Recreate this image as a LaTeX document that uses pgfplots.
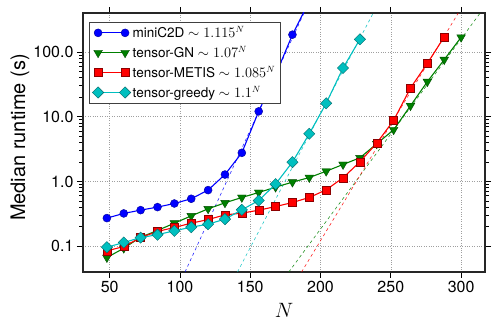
\documentclass[border=0pt]{standalone}
\usepackage{fontspec}
\setmainfont{TeX Gyre Heros}
\usepackage{pgfplots}
\pgfplotsset{compat=1.18}
\usetikzlibrary{calc}

\definecolor{mblue}{rgb}{0,0,1}
\definecolor{mgreen}{rgb}{0,0.5,0}
\definecolor{mred}{rgb}{1,0,0}
\definecolor{mcyan}{rgb}{0,0.75,0.75}

\begin{document}
\begin{tikzpicture}
\begin{axis}[
    name=ax,
    scale only axis,
    width=402pt, height=259pt,
    xmin=31, xmax=317,
    ymode=log, ymin=0.04, ymax=400,
    xtick={50,100,...,300},
    ytick={0.1,1,10,100},
    yticklabels={0.1,1.0,10.0,100.0},
    tick align=outside,
    tick pos=both,
    major tick length=6pt,
    minor tick length=3.5pt,
    every tick/.style={black, line width=0.8pt},
    axis line style={line width=1.1pt, black!85},
    grid=major,
    major grid style={dotted, gray!75, line width=0.5pt},
    tick label style={font=\fontsize{16}{16}\selectfont},
    /pgf/number format/assume math mode=true,
    xlabel={$N$},
    xlabel style={font=\fontsize{20}{20}\selectfont, at={(axis description cs:0.5,0)}, anchor=center, yshift=-38.5pt},
    ylabel={Median runtime (s)},
    ylabel style={font=\fontsize{20}{20}\selectfont, at={(axis description cs:-0.1567,0.519)}, anchor=center},
    legend style={at={(0.015,0.967)}, anchor=north west, draw=black!75, line width=0.8pt, fill=white,
        font=\fontsize{13.5}{13.5}\selectfont, cells={anchor=west}, row sep=3pt,
        inner xsep=3pt, inner ysep=2.5pt},
    legend image code/.code={\draw[#1] plot coordinates {(0pt,0pt) (27pt,0pt)};},
    clip mode=individual,
]
% exponential fits
\addplot[forget plot, mblue, dashed, line width=0.6pt, opacity=0.85] coordinates {(103.6,0.04) (188.2,400)};
\addplot[forget plot, mcyan, dashed, line width=0.6pt, opacity=0.85] coordinates {(140.9,0.04) (237.5,400)};
\addplot[forget plot, mgreen, dashed, line width=0.6pt, opacity=0.85] coordinates {(177.4,0.04) (313.6,400)};
\addplot[forget plot, mred, dashed, line width=0.6pt, opacity=0.85] coordinates {(186.5,0.04) (298,400)};

\addplot[mblue, line width=1.1pt, mark=*, mark size=4pt,
    mark options={solid, fill=mblue, draw=mblue!60!black, line width=0.4pt}] coordinates {
    (48,0.272) (60,0.321) (72,0.361) (84,0.402) (96,0.457) (108,0.541)
    (120,0.736) (132,1.28) (144,2.77) (156,12.1) (168,44.1) (180,185) (192,610)
};
\addlegendentry{miniC2D $\sim 1.115^{N}$}

\addplot[mgreen, line width=1.1pt, mark=triangle*, mark size=5pt,
    mark options={solid, rotate=180, fill=mgreen, draw=mgreen!60!black, line width=0.4pt}] coordinates {
    (48,0.0668) (60,0.0931) (72,0.138) (84,0.175) (96,0.227) (108,0.294)
    (120,0.378) (132,0.468) (144,0.566) (156,0.676) (168,0.817) (180,0.977)
    (192,1.15) (204,1.44) (216,1.83) (228,2.32) (240,3.82) (252,6.29)
    (264,14.8) (276,34.8) (288,76.1) (300,168.7)
};
\addlegendentry{tensor-GN $\sim 1.07^{N}$}

\addplot[mred, line width=1.1pt, mark=square*, mark size=4pt,
    mark options={solid, fill=mred, draw=mred!55!black, line width=0.4pt}] coordinates {
    (48,0.0847) (60,0.0989) (72,0.136) (84,0.169) (96,0.195) (108,0.227)
    (120,0.258) (132,0.305) (144,0.324) (156,0.360) (168,0.410) (180,0.473)
    (192,0.566) (204,0.743) (216,1.14) (228,2.01) (240,3.92) (252,8.78)
    (264,27.8) (276,66.8) (288,170.6)
};
\addlegendentry{tensor-METIS $\sim 1.085^{N}$}

\addplot[mcyan, line width=1.1pt, mark=square*, mark size=4pt,
    mark options={solid, rotate=45, fill=mcyan, draw=mcyan!55!black, line width=0.4pt}] coordinates {
    (48,0.0966) (60,0.114) (72,0.136) (84,0.151) (96,0.173) (108,0.197)
    (120,0.219) (132,0.262) (144,0.365) (156,0.508) (168,0.910) (180,1.99)
    (192,5.46) (204,16.1) (216,56.6) (228,157)
};
\addlegendentry{tensor-greedy $\sim 1.1^{N}$}
\end{axis}
\pgfresetboundingbox
\path[use as bounding box] ($(ax.south west)+(-83pt,-60pt)$) rectangle ($(ax.north east)+(13pt,13pt)$);
\end{tikzpicture}
\end{document}
